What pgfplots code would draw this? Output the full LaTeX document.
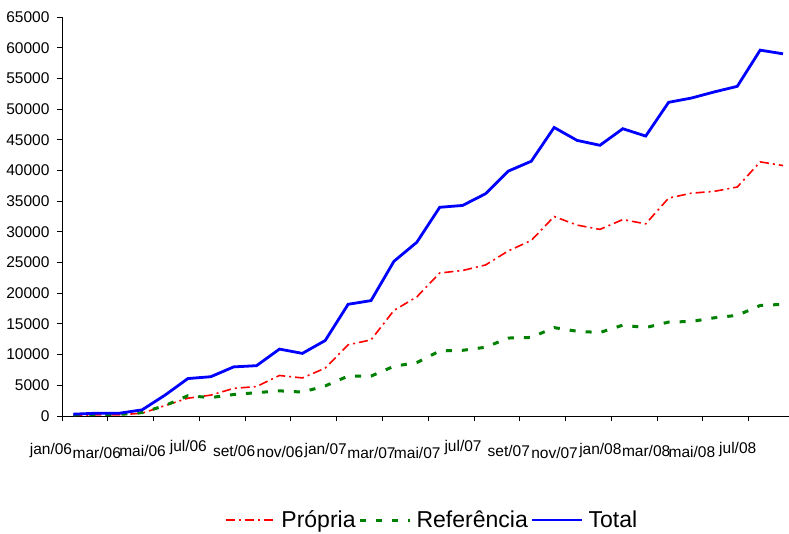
\documentclass[border=0pt]{standalone}
\usepackage{pgfplots}
\pgfplotsset{compat=1.18}
\usepackage{pgfplotstable}
\usepackage{fontspec}
\setmainfont{Liberation Sans}
\definecolor{cred}{RGB}{255,0,0}
\definecolor{cgreen}{RGB}{0,128,0}
\definecolor{cblue}{RGB}{0,0,255}
\pgfplotstableread{
i P R T
0 100 200 300
1 200 250 450
2 200 250 450
3 450 550 1000
4 1700 1700 3400
5 2900 3300 6100
6 3400 3000 6400
7 4500 3500 8000
8 4800 3800 8200
9 6600 4100 10900
10 6200 3900 10200
11 7800 4900 12300
12 11600 6500 18200
13 12400 6500 18800
14 17200 8100 25200
15 19400 8700 28300
16 23300 10600 34000
17 23700 10700 34300
18 24600 11200 36200
19 26900 12700 39900
20 28600 12800 41500
21 32500 14400 47000
22 31100 13800 44900
23 30400 13600 44100
24 32000 14800 46800
25 31300 14400 45600
26 35500 15300 51100
27 36300 15400 51800
28 36600 16000 52800
29 37300 16400 53700
30 41400 18000 59600
31 40800 18200 59000
}\datatable
\begin{document}
\begin{tikzpicture}
\useasboundingbox (-62pt,-117pt) rectangle (727pt,416pt);
\begin{axis}[
  at={(0pt,0pt)}, anchor=south west,
  scale only axis, width=727pt, height=399pt,
  xmin=-0.5, xmax=31.26, ymin=0, ymax=65000,
  axis x line=bottom, axis y line=left,
  axis line style={-, black, line width=0.9pt},
  tick style={black, line width=0.9pt},
  tick align=outside, major tick length=5pt,
  xtick={-0.5,1.5,...,29.5},
  xticklabels={{\raisebox{1.5pt}{jan/06}},{\raisebox{-2.5pt}{mar/06}},{mai/06},{\raisebox{5pt}{jul/06}},{set/06},{\raisebox{-1pt}{nov/06}},{\raisebox{2pt}{jan/07}},{\raisebox{-2pt}{mar/07}},{\raisebox{-2pt}{mai/07}},{\raisebox{5pt}{jul/07}},{set/07},{\raisebox{-2pt}{nov/07}},{\raisebox{1.5pt}{jan/08}},{mar/08},{\raisebox{-1pt}{mai/08}},{\raisebox{3pt}{jul/08}}},
  xticklabel style={anchor=base, yshift=-35pt, xshift=-11pt, font=\fontsize{15.5}{18}\selectfont},
  ytick={0,5000,...,65000},
  yticklabel style={font=\fontsize{15.5}{18}\selectfont, xshift=-4pt},
  scaled y ticks=false,
  /pgf/number format/assume math mode=true,
  /pgf/number format/set thousands separator={},
  legend columns=3,
  legend style={draw=none, fill=none, at={(0.5076,-0.2607)}, anchor=center,
    font=\fontsize{23}{27}\selectfont, inner xsep=0pt, inner ysep=0pt,
    nodes={inner sep=0pt},
    /tikz/every odd column/.append style={column sep=5pt},
    /tikz/every even column/.append style={column sep=3pt}},
  legend image code/.code={\draw[#1] (0pt,0pt) -- (50pt,0pt);},
]
\addplot[cred, line width=1.6pt, dash pattern=on 9pt off 4pt on 2pt off 4pt] table[x=i,y=P] {\datatable};
\addlegendentry{Própria}
\addplot[cgreen, line width=3pt, dash pattern=on 6pt off 10pt] table[x=i,y=R] {\datatable};
\addlegendentry{Referência}
\addplot[cblue, line width=2.8pt] table[x=i,y=T] {\datatable};
\addlegendentry{Total}
\end{axis}
\end{tikzpicture}
\end{document}
